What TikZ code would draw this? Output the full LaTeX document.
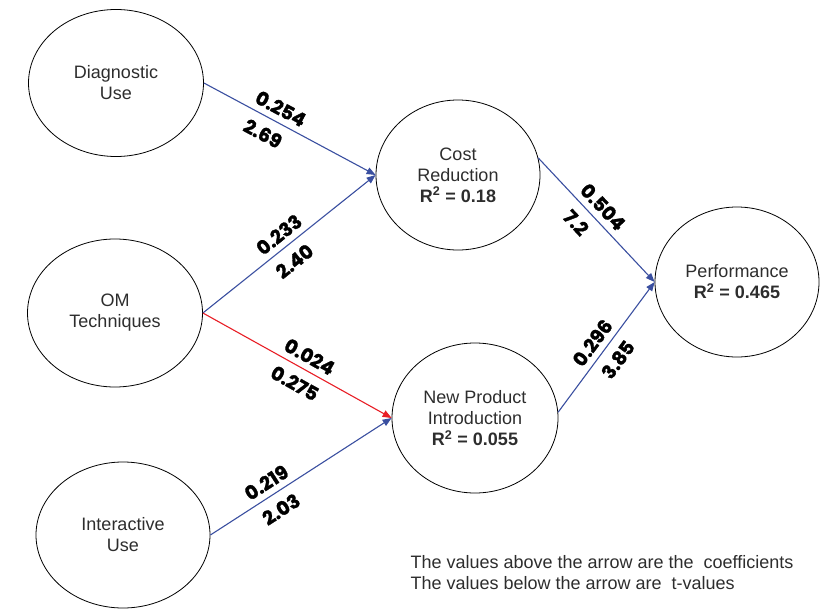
\documentclass[tikz,border=0pt]{standalone}
\usepackage{fontspec}
\setmainfont{Liberation Sans}
\newfontfamily\numfont[BoldFeatures={FakeBold=1.6}]{Poppins}
\usetikzlibrary{shapes.geometric}
\usetikzlibrary{arrows.meta}

\definecolor{pathblue}{RGB}{58,79,160}
\definecolor{pathred}{RGB}{232,30,38}
\definecolor{textgray}{RGB}{45,45,45}

\tikzset{
    construct/.style={draw, ellipse, line width=0.8pt, text=textgray, align=center,
        font=\fontsize{18}{21}\selectfont},
    link/.style={line width=1.1pt, -{Triangle[length=9pt,width=7pt]}},
    coef/.style={sloped, above, inner ysep=6pt, text=black,
        font=\numfont\bfseries\fontsize{19}{19}\selectfont},
    tval/.style={sloped, below, inner ysep=9pt, text=black,
        font=\numfont\bfseries\fontsize{19}{19}\selectfont}
}

\begin{document}
\begin{tikzpicture}[x=1pt,y=-1pt]
    \useasboundingbox (0,0) rectangle (822,610);
    % constructs
    \node[construct, minimum width=175pt, minimum height=147pt] (diag) at (116,83) {Diagnostic\\Use};
    \node[construct, minimum width=175pt, minimum height=148pt] (om) at (115,313) {OM\\Techniques};
    \node[construct, minimum width=174pt, minimum height=146pt] (inter) at (123,535) {Interactive\\Use};
    \node[construct, minimum width=164pt, minimum height=150pt] (cost) at (458,175) {Cost\\Reduction\\\textbf{R\textsuperscript{2} = 0.18}};
    \node[construct, minimum width=166pt, minimum height=150pt] (npi) at (475,418) {New Product\\Introduction\\\textbf{R\textsuperscript{2} = 0.055}};
    \node[construct, minimum width=164pt, minimum height=150pt] (perf) at (737,282) {Performance\\\textbf{R\textsuperscript{2} = 0.465}};
    % paths
    \draw[link, pathblue] (diag.east) -- node[coef, pos=.41] {0.254} node[tval, pos=.39] {2.69} (cost.west);
    \draw[link, pathblue] (om.east) -- node[coef, pos=.49] {0.233} node[tval, pos=.47] {2.40} (cost.west);
    \draw[link, pathred] (om.east) -- node[coef, pos=.53] {0.024} node[tval, pos=.53] {0.275} (npi.west);
    \draw[link, pathblue] (inter.east) -- node[coef, pos=.35] {0.219} node[tval, pos=.34] {2.03} (npi.west);
    \draw[link, pathblue] (cost.12) -- node[coef, pos=.47] {0.504} node[tval, pos=.43] {7.2} (perf.west);
    \draw[link, pathblue] (npi.4) -- node[coef, pos=.47] {0.296} node[tval, pos=.48] {3.85} (perf.west);
    % note
    \node[anchor=west, align=left, text=textgray, font=\fontsize{18}{21}\selectfont] (note) at (407,573)
        {The values above the arrow are the\ \ coefficients\\The values below the arrow are\ \ t-values};
\end{tikzpicture}
\end{document}
